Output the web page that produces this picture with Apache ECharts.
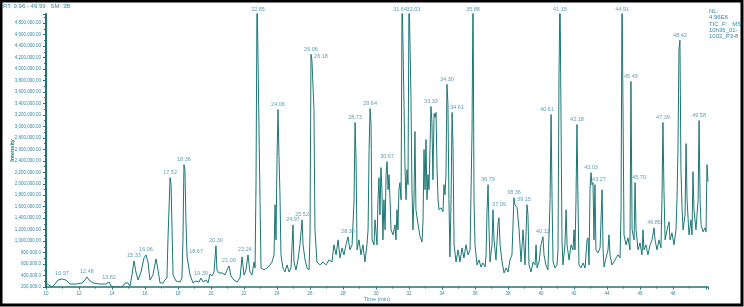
<!DOCTYPE html>
<html>
<head>
<meta charset="utf-8">
<script src="https://cdn.jsdelivr.net/npm/echarts@6/dist/echarts.min.js"></script>
<style>
  html, body { margin: 0; padding: 0; background: #fff; }
  #chart { width: 744px; height: 307px; }
</style>
</head>
<body>
<div id="chart"></div>
<script>
// Retention time (min) of each trace vertex
const rtMin = [10.00,10.18,10.36,10.55,10.73,10.97,11.21,11.45,11.82,12.18,12.36,12.48,12.61,12.85,13.27,13.64,13.82,13.94,14.24,14.61,14.79,14.97,15.09,15.21,15.33,15.45,15.58,15.76,15.94,16.06,16.18,16.30,16.48,16.67,16.79,16.91,17.09,17.21,17.33,17.39,17.52,17.58,17.64,17.70,17.88,18.12,18.24,18.30,18.36,18.42,18.48,18.55,18.67,18.73,18.91,19.09,19.27,19.39,19.52,19.70,19.82,19.94,20.06,20.18,20.30,20.36,20.48,20.67,20.85,20.97,21.09,21.21,21.39,21.58,21.76,21.88,22.00,22.12,22.24,22.36,22.48,22.61,22.67,22.73,22.79,22.91,22.97,23.03,23.21,23.39,23.58,23.70,23.82,23.88,23.94,24.00,24.06,24.12,24.18,24.24,24.36,24.48,24.61,24.73,24.85,24.97,25.03,25.15,25.27,25.39,25.52,25.58,25.70,25.82,25.94,26.00,26.06,26.12,26.18,26.24,26.30,26.42,26.61,26.79,26.97,27.15,27.33,27.45,27.58,27.70,27.82,27.94,28.06,28.18,28.30,28.42,28.55,28.67,28.73,28.79,28.85,28.97,29.09,29.21,29.33,29.45,29.52,29.58,29.64,29.70,29.76,29.88,29.94,30.06,30.12,30.18,30.24,30.30,30.36,30.42,30.48,30.55,30.61,30.67,30.73,30.79,30.85,30.91,31.03,31.15,31.21,31.27,31.33,31.39,31.45,31.52,31.58,31.70,31.76,31.82,31.88,31.94,32.00,32.06,32.12,32.18,32.24,32.30,32.36,32.42,32.55,32.67,32.79,32.85,32.91,32.97,33.03,33.09,33.15,33.21,33.27,33.33,33.39,33.45,33.52,33.58,33.64,33.70,33.76,33.82,33.94,34.06,34.12,34.18,34.24,34.30,34.36,34.42,34.48,34.55,34.61,34.67,34.73,34.85,34.97,35.09,35.21,35.33,35.45,35.58,35.70,35.82,35.88,35.94,36.00,36.12,36.24,36.36,36.48,36.61,36.67,36.73,36.79,36.85,36.91,37.03,37.09,37.15,37.27,37.39,37.45,37.52,37.64,37.76,37.88,38.00,38.12,38.24,38.36,38.42,38.55,38.67,38.79,38.91,39.03,39.15,39.21,39.27,39.39,39.52,39.64,39.70,39.76,39.88,40.00,40.12,40.18,40.30,40.42,40.55,40.61,40.67,40.73,40.85,40.97,41.03,41.09,41.15,41.21,41.27,41.33,41.45,41.52,41.58,41.70,41.82,41.94,42.00,42.06,42.12,42.18,42.24,42.30,42.42,42.55,42.67,42.79,42.85,42.91,42.97,43.03,43.09,43.15,43.21,43.27,43.33,43.45,43.58,43.70,43.76,43.82,43.94,44.06,44.12,44.18,44.30,44.42,44.55,44.67,44.79,44.85,44.91,44.97,45.03,45.15,45.27,45.39,45.45,45.52,45.64,45.70,45.76,45.88,46.00,46.12,46.18,46.24,46.36,46.48,46.61,46.73,46.85,46.91,47.03,47.15,47.27,47.33,47.39,47.45,47.52,47.64,47.76,47.82,47.94,48.06,48.18,48.24,48.30,48.36,48.42,48.48,48.55,48.61,48.73,48.79,48.85,48.97,49.09,49.15,49.21,49.27,49.39,49.52,49.58,49.64,49.70,49.82,49.94,50.00,50.06,50.12];

// Intensity at each vertex, in thousands (peaks above NL are off scale)
const intensityK = [270,235,200,252,322,340,322,252,252,270,322,375,322,270,252,252,287,217,200,200,270,270,217,410,655,462,322,462,707,760,637,322,410,690,497,270,270,322,357,1022,2106,1984,1197,410,305,287,357,1022,2334,2246,1372,725,725,410,270,305,287,357,287,322,270,427,392,462,917,497,445,445,410,497,567,392,322,287,357,725,410,497,760,462,410,637,532,2071,5400,5400,1722,532,497,532,585,637,760,1634,1022,2421,3296,2474,1809,760,532,462,585,462,532,1284,637,497,672,935,1372,935,672,532,497,1109,4258,4135,4135,3296,1197,637,585,637,585,672,637,935,760,1022,707,882,760,935,1075,847,935,1722,3068,2421,847,1022,760,935,637,935,1197,2596,3313,3033,1022,935,1372,935,1722,2106,1459,2281,1897,1022,1722,1197,2159,2386,1897,2159,1722,1197,1109,1284,1022,1547,1197,1897,2019,1722,5400,5400,2246,1722,2246,1984,5400,5400,3471,1897,1197,1722,2911,1547,1284,1075,987,1372,2596,1897,2771,1722,2159,1897,2596,3348,3068,2071,3225,3155,3243,2246,1722,1547,1582,1512,1984,1809,2159,3733,3383,1722,725,1722,3243,2596,935,637,847,637,882,707,935,760,847,2930,5400,1722,935,585,672,550,620,550,760,1547,1984,1197,637,935,1547,1022,672,1284,1407,935,637,445,532,462,672,760,1757,1634,1582,1197,637,1197,585,1634,1459,585,462,637,585,935,532,637,935,1075,760,585,497,1722,3208,1722,637,532,585,847,3873,5400,5400,1022,585,935,1547,935,672,935,847,1197,847,1722,3033,1722,585,532,620,532,1022,1057,585,1897,2194,1984,2019,1022,1984,847,795,882,1897,847,550,707,847,1109,760,585,637,707,760,707,1547,5400,5400,1109,935,1057,847,3785,1197,1022,2019,1197,847,970,760,1197,847,935,760,935,1022,1232,1022,847,1022,882,1722,3068,1897,1022,1197,1337,1022,1144,935,1197,1722,2596,4345,4503,2246,1547,1197,1459,2701,1722,1109,1372,1109,2211,1547,1197,1722,3103,1722,1284,1162,1232,1162,2334,2036];

// Labelled peaks: retention time and apex intensity (thousands)
const peakRt = [10.97,12.48,13.82,15.33,16.06,17.52,18.36,18.67,19.39,20.30,21.09,22.24,22.85,24.06,24.97,25.52,26.06,26.18,28.30,28.73,29.64,30.67,31.64,32.03,33.33,34.30,34.61,35.88,36.79,37.09,38.36,39.15,40.12,40.61,41.15,42.18,43.03,43.27,44.91,45.45,45.70,46.85,47.39,48.42,49.58];
const peakTopK = [340,375,287,655,760,2106,2334,725,357,917,567,760,5400,3296,1284,1372,4258,4135,1075,3068,3313,2386,5400,5400,3348,3733,3243,5400,1984,1547,1757,1634,1075,3208,5400,3033,2194,1984,5400,3785,2019,1232,3068,4503,3103];

const headerLeft = 'RT: 9.96 - 49.99   SM: 3B';
const headerRight = ['NL:', '4.96E6', 'TIC  F:   MS', '10h36_01-', '1002_P3-8'];

const yMin = 200000;
const yMax = 4960000;

// horizontal nudges (px) so that neighbouring labels do not sit on each other
const labelNudge = { '18.67': 7, '22.24': -3, '26.18': 8, '31.64': -3, '32.03': 4, '34.61': 5,
                     '37.09': 6, '39.15': -3, '40.61': -4, '43.27': 4, '45.70': 4 };

const teal = '#1c7775';
const textBlue = '#3586a6';
const font = 'Liberation Sans';

function fmtIntensity(v) {
    const dec = v >= 1000000 ? 2 : 1;
    return v.toLocaleString('en-US', { minimumFractionDigits: dec, maximumFractionDigits: dec });
}

const chart = echarts.init(document.getElementById('chart'));

const traceData = rtMin.map((t, i) => [t, intensityK[i] * 1000]);
const peakData = peakRt.map((t, i) => {
    const txt = t.toFixed(2);
    return {
        value: [t, Math.min(peakTopK[i] * 1000, yMax - 10000)],
        label: { formatter: txt, offset: [labelNudge[txt] || 0, 0] }
    };
});

chart.setOption({
    animation: false,
    textStyle: { fontFamily: font },
    grid: { left: 46, right: 36, top: 14, bottom: 20, containLabel: false, outerBoundsMode: 'none' },
    xAxis: {
        type: 'value',
        min: 10,
        max: 50.12,
        interval: 2,
        name: 'Time (min)',
        nameLocation: 'middle',
        nameGap: 9,
        nameMoveOverlap: false,
        nameTextStyle: { color: textBlue, fontSize: 5.5, fontFamily: font },
        axisLine: { lineStyle: { color: teal, width: 1.5 } },
        axisTick: { length: 2.5, lineStyle: { color: teal } },
        minorTick: { show: true, splitNumber: 2, length: 1.5, lineStyle: { color: teal } },
        axisLabel: {
            color: textBlue, fontSize: 4.5, margin: 4,
            formatter: (v) => v >= 50 ? '' : String(v)
        },
        splitLine: { show: false }
    },
    yAxis: {
        type: 'value',
        min: yMin,
        max: yMax,
        interval: 200000,
        name: 'Intensity',
        nameLocation: 'middle',
        nameGap: 31,
        nameMoveOverlap: false,
        nameTextStyle: { color: teal, fontSize: 5.5, fontWeight: 'bold', fontFamily: font },
        axisLine: { show: true, lineStyle: { color: teal, width: 2 } },
        axisTick: { show: true, length: 3, lineStyle: { color: teal } },
        minorTick: { show: true, splitNumber: 2, length: 2, lineStyle: { color: teal } },
        axisLabel: { color: textBlue, fontSize: 4.5, margin: 5, showMaxLabel: false, formatter: fmtIntensity },
        splitLine: { show: false }
    },
    series: [
        {
            type: 'line',
            data: traceData,
            showSymbol: false,
            symbol: 'none',
            clip: true,
            lineStyle: { color: teal, width: 1 },
            z: 2
        },
        {
            type: 'scatter',
            data: peakData,
            symbolSize: 0,
            silent: true,
            clip: false,
            label: {
                show: true,
                position: 'top',
                distance: 2,
                color: textBlue,
                fontSize: 5.5,
                fontFamily: font
            },
            z: 3
        }
    ],
    graphic: [
        {
            type: 'rect',
            shape: { x: 1, y: 1, width: 741, height: 304 },
            style: { fill: null, stroke: '#000', lineWidth: 3 },
            silent: true
        },
        {
            type: 'text',
            left: 3, top: 3,
            style: { text: headerLeft, fill: textBlue, fontSize: 6, fontFamily: font }
        },
        {
            type: 'text',
            left: 709, top: 8,
            style: { text: headerRight.join('\n'), fill: textBlue, fontSize: 6, lineHeight: 6.4, fontFamily: font }
        }
    ]
});
</script>
</body>
</html>
